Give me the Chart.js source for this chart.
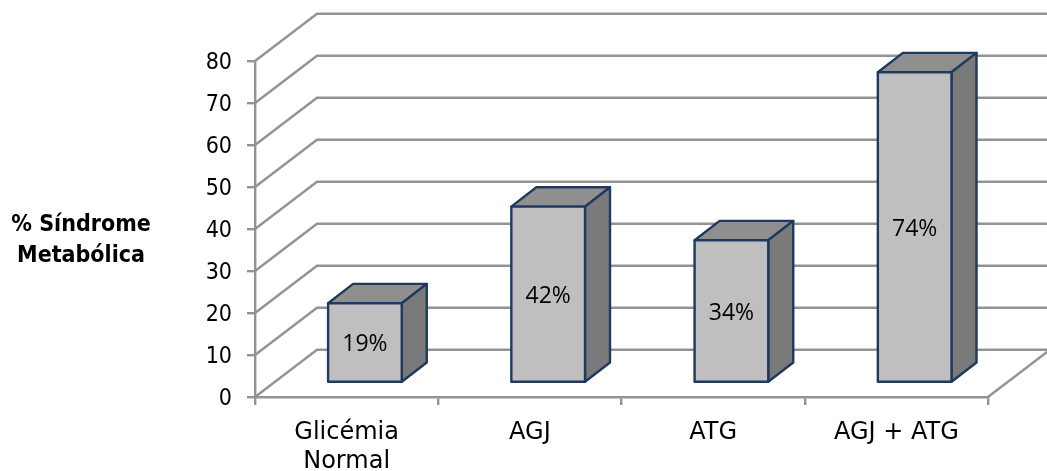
<!DOCTYPE html>
<html>
<head>
<meta charset="utf-8">
<style>
  html, body { margin: 0; padding: 0; background: #fff; }
  #wrap { position: relative; width: 1047px; height: 471px; }
</style>
<script src="https://cdn.jsdelivr.net/npm/chart.js@4/dist/chart.umd.min.js"></script>
</head>
<body>
<div id="wrap"><canvas id="chart" width="1047" height="471"></canvas></div>
<script>
const categories = [["Glicémia", "Normal"], "AGJ", "ATG", "AGJ + ATG"];
const syndromePct = [19, 42, 34, 74];
const valueLabels = ["19%", "42%", "34%", "74%"];
const axisTitleLines = ["% Síndrome", "Metabólica"];
const yTicks = [0, 10, 20, 30, 40, 50, 60, 70, 80];

// Perspective of the box the chart sits in, and of the bars inside it
const WALL_DX = 62, WALL_DY = -47.3;
const BAR_SHIFT_X = 18.3, BAR_SHIFT_Y = -14;
const BAR_DX = 25, BAR_DY = -19.3;

const GRID = "#939393", FRONT = "#bfbfbf", TOP = "#8f8f8f", SIDE = "#7a7a7a", EDGE = "#1f3a5f";
const Y_FONT = '"DejaVu Sans Condensed", "DejaVu Sans", sans-serif';
const X_FONT = '"DejaVu Sans", sans-serif';
const LABEL_FONT = '"Open Sans", sans-serif';

function face(ctx, pts, fill) {
  ctx.beginPath();
  pts.forEach((p, i) => i ? ctx.lineTo(p[0], p[1]) : ctx.moveTo(p[0], p[1]));
  ctx.closePath();
  if (fill) {
    ctx.fillStyle = fill;
    ctx.fill();
  }
  ctx.strokeStyle = EDGE;
  ctx.lineWidth = 2.4;
  ctx.lineJoin = "round";
  ctx.stroke();
}

function barCorners(bar) {
  const p = bar.getProps(["x", "y", "base", "width"], true);
  return { l: p.x - p.width / 2, r: p.x + p.width / 2, t: p.y, b: p.base };
}

const box3d = {
  id: "box3d",
  // Receding gridlines on the left wall and back wall, plus the floor edge
  beforeDatasetsDraw(chart) {
    const { ctx, scales: { y }, chartArea } = chart;
    ctx.save();
    ctx.strokeStyle = GRID;
    ctx.lineWidth = 2.4;
    yTicks.forEach(v => {
      const py = y.getPixelForValue(v);
      ctx.beginPath();
      ctx.moveTo(chartArea.left, py);
      ctx.lineTo(chartArea.left + WALL_DX, py + WALL_DY);
      ctx.lineTo(chart.width, py + WALL_DY);
      ctx.stroke();
    });
    ctx.beginPath();
    ctx.moveTo(chartArea.right, y.getPixelForValue(0));
    ctx.lineTo(chartArea.right + WALL_DX, y.getPixelForValue(0) + WALL_DY);
    ctx.stroke();
    ctx.restore();
  },
  // Top and side faces go down first, then the bar element fills the front face
  beforeDatasetDraw(chart, args) {
    const { ctx } = chart;
    ctx.save();
    ctx.translate(BAR_SHIFT_X, BAR_SHIFT_Y);
    args.meta.data.forEach(bar => {
      const { l, r, t, b } = barCorners(bar);
      face(ctx, [[l, t], [l + BAR_DX, t + BAR_DY], [r + BAR_DX, t + BAR_DY], [r, t]], TOP);
      face(ctx, [[r, t], [r + BAR_DX, t + BAR_DY], [r + BAR_DX, b + BAR_DY], [r, b]], SIDE);
    });
  },
  // Front-face outline sits centred on the bar's edges
  afterDatasetDraw(chart, args) {
    const { ctx } = chart;
    args.meta.data.forEach(bar => {
      const { l, r, t, b } = barCorners(bar);
      face(ctx, [[l, t], [r, t], [r, b], [l, b]]);
    });
    ctx.restore();
  },
  afterDatasetsDraw(chart) {
    const { ctx } = chart;
    const meta = chart.getDatasetMeta(0);
    ctx.save();
    ctx.fillStyle = "#000";
    ctx.font = '23px ' + LABEL_FONT;
    ctx.textAlign = "center";
    ctx.textBaseline = "middle";
    meta.data.forEach((bar, i) => {
      const p = bar.getProps(["x", "y", "base"], true);
      ctx.fillText(valueLabels[i], p.x + BAR_SHIFT_X, (p.y + p.base) / 2 + BAR_SHIFT_Y + 2);
    });
    // Horizontal axis title, left of the value ticks
    ctx.font = 'bold 23px ' + Y_FONT;
    axisTitleLines.forEach((line, i) => ctx.fillText(line, 81, 225 + i * 31));
    ctx.restore();
  }
};

new Chart(document.getElementById("chart"), {
  type: "bar",
  data: {
    labels: categories,
    datasets: [{
      data: syndromePct,
      backgroundColor: FRONT,
      borderWidth: 0,
      barPercentage: 0.402,
      categoryPercentage: 1,
      clip: false
    }]
  },
  plugins: [box3d],
  options: {
    responsive: false,
    animation: false,
    layout: { padding: { top: 61, right: 59, left: 0, bottom: 0 } },
    plugins: { legend: { display: false }, tooltip: { enabled: false } },
    scales: {
      x: {
        grid: { drawOnChartArea: false, color: GRID, lineWidth: 2.4, tickLength: 8 },
        border: { color: GRID, width: 2.4 },
        ticks: {
          color: "#000", padding: 13, maxRotation: 0,
          font: { family: X_FONT, size: 24, lineHeight: 1.21 }
        },
        afterFit(scale) { scale.height = 74; }
      },
      y: {
        min: 0, max: 80,
        grid: { drawOnChartArea: false, color: GRID, lineWidth: 2.4, tickLength: 8 },
        border: { color: GRID, width: 2.4 },
        ticks: {
          stepSize: 10, color: "#000", padding: 15, labelOffset: 2,
          font: { family: Y_FONT, size: 23 }
        },
        afterFit(scale) { scale.width = 255; }
      }
    }
  }
});
</script>
</body>
</html>
